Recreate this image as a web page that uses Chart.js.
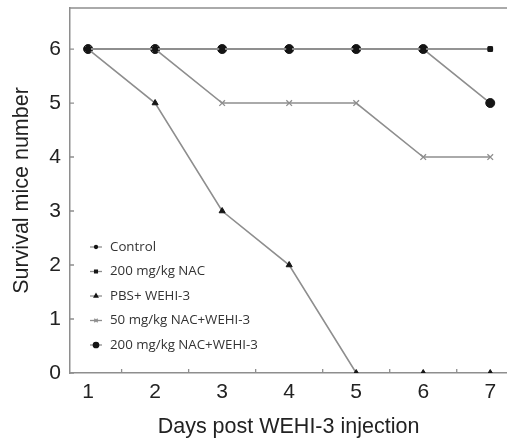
<!DOCTYPE html>
<html lang="en">
<head>
  <meta charset="UTF-8">
  <title>Survival mice number</title>
  <style>
    html, body { margin: 0; padding: 0; background: #fff; }
    #wrap { width: 507px; height: 440px; }
  </style>
</head>
<body>
  <div id="wrap"><canvas id="chart" width="507" height="440"></canvas></div>

  <script src="https://cdn.jsdelivr.net/npm/chart.js"></script>
  <script>
    // data
    const days = [1, 2, 3, 4, 5, 6, 7];
    const control = [6, 6, 6, 6, 6, 6, 6];
    const nac200 = [6, 6, 6, 6, 6, 6, 6];
    const pbsWehi = [6, 5, 3, 2, 0, 0, 0];
    const nac50Wehi = [6, 6, 5, 5, 5, 4, 4];
    const nac200Wehi = [6, 6, 6, 6, 6, 6, 5];
    const yTicks = [0, 1, 2, 3, 4, 5, 6];

    const lineGrey = '#8e8e8e';
    const markBlack = '#151515';
    const axisFont = 'Liberation Sans, Arial, sans-serif';

    function pts(vals) {
      return vals.map((v, i) => ({ x: days[i], y: v }));
    }

    function series(label, vals, style, radius, markColor) {
      return {
        label: label,
        data: pts(vals),
        borderColor: lineGrey,
        borderWidth: 1.6,
        pointStyle: style,
        pointRadius: radius,
        pointBackgroundColor: markColor,
        pointBorderColor: markColor,
        pointBorderWidth: style === 'crossRot' ? 1.3 : 1,
        tension: 0,
        fill: false
      };
    }

    const datasets = [
      series('Control', control, 'circle', 2.5, markBlack),
      series('200 mg/kg NAC', nac200, 'rect', 3.3, markBlack),
      series('PBS+ WEHI-3', pbsWehi, 'triangle', 3.5, markBlack),
      series('50 mg/kg NAC+WEHI-3', nac50Wehi, 'crossRot', 4, lineGrey),
      series('200 mg/kg NAC+WEHI-3', nac200Wehi, 'circle', 4.5, markBlack)
    ];

    // inward tick marks, top frame line and the in-plot legend
    const extras = {
      id: 'extras',
      afterDraw(chart) {
        const ctx = chart.ctx;
        const xs = chart.scales.x, ys = chart.scales.y;
        const area = chart.chartArea;
        ctx.save();
        ctx.strokeStyle = lineGrey;
        ctx.lineWidth = 1.3;
        ctx.beginPath();
        ctx.moveTo(area.left, area.top);
        ctx.lineTo(area.right, area.top);
        for (let d = 1.5; d < 7; d += 1) {
          const px = xs.getPixelForValue(d);
          ctx.moveTo(px, area.bottom);
          ctx.lineTo(px, area.bottom - 4);
        }
        yTicks.forEach(v => {
          const py = ys.getPixelForValue(v);
          ctx.moveTo(area.left, py);
          ctx.lineTo(area.left + 4, py);
        });
        ctx.stroke();

        // legend
        const lx = area.left + 20;
        let ly = area.top + 239;
        ctx.font = '13.3px "Open Sans", "Noto Sans", sans-serif';
        ctx.textBaseline = 'middle';
        ctx.textAlign = 'left';
        chart.data.datasets.forEach(ds => {
          ctx.strokeStyle = lineGrey;
          ctx.lineWidth = 1.3;
          ctx.beginPath();
          ctx.moveTo(lx, ly);
          ctx.lineTo(lx + 12, ly);
          ctx.stroke();
          ctx.fillStyle = ds.pointBackgroundColor;
          ctx.strokeStyle = ds.pointBorderColor;
          Chart.helpers.drawPoint(ctx, {
            pointStyle: ds.pointStyle,
            radius: Math.min(ds.pointRadius * 0.6, 2.8),
            rotation: 0,
            borderWidth: 1
          }, lx + 6, ly);
          ctx.fillStyle = '#333';
          ctx.fillText(ds.label, lx + 20, ly);
          ly += 24.5;
        });
        ctx.restore();
      }
    };

    new Chart(document.getElementById('chart'), {
      type: 'line',
      data: { datasets: datasets },
      plugins: [extras],
      options: {
        responsive: false,
        animation: false,
        layout: { autoPadding: false, padding: { top: 8, right: 0, bottom: 0, left: 0 } },
        plugins: { legend: { display: false }, tooltip: { enabled: false } },
        scales: {
          x: {
            type: 'linear',
            min: 0.73,
            max: 7.25,
            afterBuildTicks(scale) { scale.ticks = days.map(d => ({ value: d })); },
            afterFit(scale) {
              scale.height = 67;
              scale.paddingLeft = 0;
              scale.paddingRight = 0;
            },
            grid: { display: false, drawTicks: false },
            border: { display: true, color: lineGrey, width: 1.5 },
            ticks: {
              padding: 7,
              color: '#222',
              font: { family: axisFont, size: 21 }
            },
            title: {
              display: true,
              text: 'Days post WEHI-3 injection',
              color: '#222',
              padding: { top: 0, bottom: 0 },
              font: { family: axisFont, size: 21.5 }
            }
          },
          y: {
            min: 0,
            max: 6.76,
            afterBuildTicks(scale) { scale.ticks = yTicks.map(v => ({ value: v })); },
            afterFit(scale) {
              scale.width = 70;
              scale.paddingTop = 0;
              scale.paddingBottom = 0;
            },
            grid: { display: false, drawTicks: false },
            border: { display: true, color: lineGrey, width: 1.5 },
            ticks: {
              padding: 9,
              color: '#222',
              font: { family: axisFont, size: 21 }
            },
            title: {
              display: true,
              text: 'Survival mice number',
              color: '#222',
              padding: { top: 9, bottom: 0 },
              font: { family: axisFont, size: 21.5 }
            }
          }
        }
      }
    });
  </script>
</body>
</html>
